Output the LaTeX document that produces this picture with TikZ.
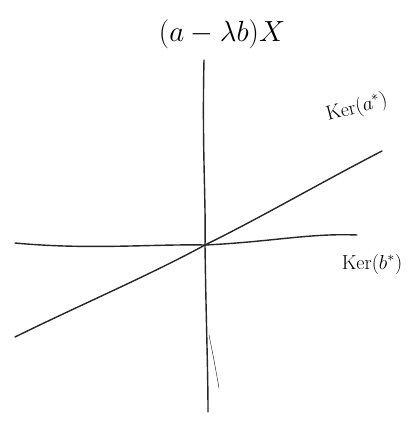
\documentclass[tikz,border=0pt]{standalone}
\usepackage{amsmath, amssymb}
\usepackage{tikz}
\usetikzlibrary{positioning, calc}
\usepackage{xcolor}

\begin{document}
\begin{tikzpicture}[x=0.03cm, y=-0.03cm, line cap=round,
    every node/.style={font=\LARGE},
    stroke/.style={black!85, line width=1.2pt}]
    \useasboundingbox (0, 0) rectangle (414, 425);

    % Origin and end points
    \coordinate (origin) at (205, 245);
    \coordinate (vtop) at (204, 60);
    \coordinate (vbot) at (208, 412);
    \coordinate (hleft) at (15, 243);
    \coordinate (hright) at (357, 235);
    \coordinate (dleft) at (15, 337);
    \coordinate (dright) at (382, 151);

    % Vertical line
    \draw[stroke] (vtop) .. controls (202, 150) and (206, 200) .. (origin)
      .. controls (206, 320) and (208, 370) .. (vbot);
    \draw[stroke, thin] (209, 335) .. controls (214, 360) .. (219, 388);

    % Horizontal line, Ker(b*)
    \draw[stroke] (hleft) .. controls (90, 250) and (150, 244) .. (origin)
      .. controls (270, 242) and (310, 233) .. (hright);

    % Diagonal line, Ker(a*)
    \draw[stroke] (dleft) .. controls (80, 305) and (150, 275) .. (origin)
      .. controls (260, 218) and (320, 183) .. (dright);

    % Labels
    \node[rotate=15] (kera) at (357, 108) {$\mathrm{Ker}(a^*)$};
    \node (kerb) at (372, 264) {$\mathrm{Ker}(b^*)$};
    \node (title) at (222, 34) {\Huge $(a-\lambda b)X$};
\end{tikzpicture}
\end{document}
